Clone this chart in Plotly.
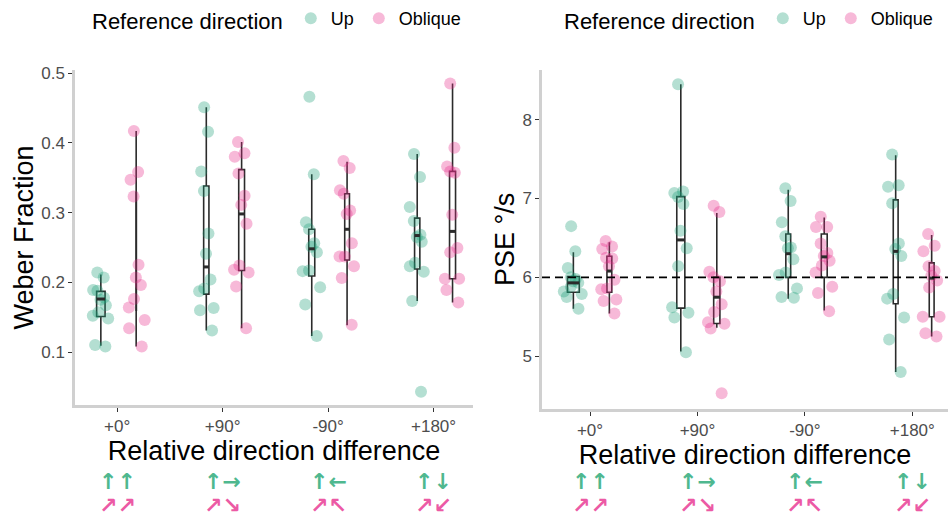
import plotly.graph_objects as go

# ---------------- data ----------------
categories = ["+0°", "+90°", "-90°", "+180°"]
series_names = ["Up", "Oblique"]
arrows_up = ["↑↑", "↑→", "↑←", "↑↓"]
arrows_obl = ["↗↗", "↗↘", "↗↖", "↗↙"]

weber_up = [
    [0.214, 0.207, 0.189, 0.188, 0.178, 0.175, 0.167, 0.157, 0.152, 0.148, 0.110, 0.108],
    [0.451, 0.416, 0.359, 0.331, 0.270, 0.241, 0.204, 0.191, 0.187, 0.163, 0.160, 0.131],
    [0.466, 0.355, 0.286, 0.276, 0.256, 0.251, 0.243, 0.217, 0.216, 0.193, 0.168, 0.123],
    [0.384, 0.351, 0.308, 0.288, 0.268, 0.265, 0.258, 0.228, 0.223, 0.215, 0.173, 0.043],
]
weber_obl = [
    [0.417, 0.358, 0.347, 0.323, 0.225, 0.207, 0.196, 0.176, 0.164, 0.146, 0.134, 0.108],
    [0.401, 0.385, 0.380, 0.356, 0.324, 0.311, 0.284, 0.224, 0.218, 0.214, 0.194, 0.134],
    [0.374, 0.364, 0.332, 0.327, 0.303, 0.298, 0.256, 0.237, 0.237, 0.223, 0.206, 0.139],
    [0.485, 0.393, 0.366, 0.359, 0.357, 0.297, 0.249, 0.243, 0.205, 0.205, 0.189, 0.171],
]
# box statistics
weber_up_q1 = [0.151, 0.183, 0.209, 0.219]
weber_up_med = [0.176, 0.222, 0.248, 0.267]
weber_up_q3 = [0.187, 0.338, 0.276, 0.292]
weber_up_lo = [0.109, 0.131, 0.123, 0.173]
weber_up_hi = [0.211, 0.451, 0.355, 0.384]
weber_obl_q1 = [0.160, 0.217, 0.232, 0.205]
weber_obl_med = [0.201, 0.298, 0.276, 0.273]
weber_obl_q3 = [0.329, 0.3615, 0.327, 0.359]
weber_obl_lo = [0.108, 0.134, 0.1385, 0.171]
weber_obl_hi = [0.417, 0.401, 0.373, 0.485]

pse_up = [
    [6.65, 6.33, 6.12, 6.00, 5.98, 5.95, 5.93, 5.88, 5.82, 5.79, 5.75, 5.60],
    [8.45, 7.09, 7.07, 7.02, 6.93, 6.59, 6.37, 6.14, 5.62, 5.55, 5.49, 5.05],
    [7.13, 6.97, 6.70, 6.52, 6.38, 6.37, 6.23, 6.06, 6.03, 5.86, 5.75, 5.74],
    [7.56, 7.17, 7.15, 6.94, 6.43, 6.36, 6.27, 5.79, 5.73, 5.49, 5.21, 4.80],
]
pse_obl = [
    [6.46, 6.39, 6.36, 6.25, 6.24, 6.14, 5.97, 5.86, 5.85, 5.72, 5.70, 5.54],
    [6.91, 6.83, 6.07, 6.00, 5.95, 5.82, 5.66, 5.56, 5.43, 5.41, 5.35, 4.53],
    [6.77, 6.64, 6.64, 6.43, 6.31, 6.27, 6.21, 6.15, 6.06, 5.88, 5.80, 5.57],
    [6.55, 6.40, 6.33, 6.14, 6.08, 6.02, 5.96, 5.87, 5.50, 5.50, 5.29, 5.25],
]
pse_up_q1 = [5.81, 5.61, 6.00, 5.665]
pse_up_med = [5.93, 6.475, 6.30, 6.33]
pse_up_q3 = [6.01, 7.024, 6.55, 6.983]
pse_up_lo = [5.60, 5.06, 5.73, 4.80]
pse_up_hi = [6.32, 8.45, 7.11, 7.55]
pse_obl_q1 = [5.81, 5.415, 6.00, 5.50]
pse_obl_med = [6.08, 5.748, 6.26, 5.99]
pse_obl_q3 = [6.267, 6.00, 6.55, 6.184]
pse_obl_lo = [5.54, 5.36, 5.58, 5.25]
pse_obl_hi = [6.445, 6.816, 6.758, 6.537]
pse_reference = 6

# ---------------- styling ----------------
GREEN = "#1b9e77"
PINK = "#e7298a"
ARROW_GREEN = "#4fb88f"
ARROW_PINK = "#ec5aa5"
FONT = "Liberation Sans, Arial, sans-serif"
W, H = 948, 520
OFFSETS = {"Up": -0.155, "Oblique": 0.18}
BOX_WIDTHS = {
    ("x", "Up"): [0.08, 0.05, 0.057, 0.05],
    ("x", "Oblique"): [0.004, 0.055, 0.045, 0.057],
    ("x2", "Up"): [0.11, 0.075, 0.045, 0.045],
    ("x2", "Oblique"): [0.045, 0.058, 0.055, 0.045],
}

fig = go.Figure()

panels = [
    dict(xa="x", ya="y", legend="legend",
         series={"Up": (weber_up, weber_up_q1, weber_up_med, weber_up_q3, weber_up_lo, weber_up_hi),
                 "Oblique": (weber_obl, weber_obl_q1, weber_obl_med, weber_obl_q3, weber_obl_lo, weber_obl_hi)}),
    dict(xa="x2", ya="y2", legend="legend2",
         series={"Up": (pse_up, pse_up_q1, pse_up_med, pse_up_q3, pse_up_lo, pse_up_hi),
                 "Oblique": (pse_obl, pse_obl_q1, pse_obl_med, pse_obl_q3, pse_obl_lo, pse_obl_hi)}),
]
colors = {"Up": GREEN, "Oblique": PINK}

for p in panels:
    # boxes first
    for name, (pts, q1, med, q3, lo, hi) in p["series"].items():
        for i in range(len(categories)):
            pos = i + 1 + OFFSETS[name]
            w = BOX_WIDTHS[(p["xa"], name)][i]
            fig.add_trace(go.Box(
                x=[pos], q1=[q1[i]], median=[med[i]], q3=[q3[i]],
                lowerfence=[lo[i]], upperfence=[hi[i]], width=w,
                fillcolor="white", line=dict(color="#2b2b2b", width=1.6),
                whiskerwidth=0, boxpoints=False, showlegend=False,
                xaxis=p["xa"], yaxis=p["ya"], hoverinfo="skip"))
            if w > 0.01:
                # thicker median bar (ggplot style)
                fig.add_trace(go.Scatter(
                    x=[pos - w / 2, pos + w / 2], y=[med[i], med[i]], mode="lines",
                    line=dict(color="#2b2b2b", width=3), showlegend=False,
                    hoverinfo="skip", xaxis=p["xa"], yaxis=p["ya"]))
    # jittered points on top
    for name, (pts, *_rest) in p["series"].items():
        for i, vals in enumerate(pts):
            pos = i + 1 + OFFSETS[name]
            fig.add_trace(go.Box(
                x=[pos] * len(vals), y=vals, width=0.21,
                boxpoints="all", jitter=1, pointpos=0,
                fillcolor="rgba(0,0,0,0)", line=dict(width=0, color="rgba(0,0,0,0)"),
                whiskerwidth=0,
                marker=dict(size=12, color=colors[name], opacity=0.33, line=dict(width=0)),
                showlegend=False, name=name, xaxis=p["xa"], yaxis=p["ya"]))
    # legend entries
    for name in series_names:
        fig.add_trace(go.Scatter(
            x=[None], y=[None], mode="markers", name=name,
            marker=dict(size=12, color=colors[name], opacity=0.33),
            legend=p["legend"], xaxis=p["xa"], yaxis=p["ya"]))

# dashed reference line
fig.add_shape(type="line", xref="x2 domain", x0=0, x1=1, yref="y2",
              y0=pse_reference, y1=pse_reference,
              line=dict(color="black", width=1.6, dash="8px,5px"))

# arrow glyph rows under each category
for xa in ["x", "x2"]:
    for i in range(len(categories)):
        fig.add_annotation(x=i + 1, xref=xa, y=1 - 496 / H, yref="paper",
                           text="<b>" + arrows_up[i] + "</b>", showarrow=False,
                           font=dict(family="DejaVu Sans", size=22, color=ARROW_GREEN))
        fig.add_annotation(x=i + 1, xref=xa, y=0, yref="paper", yanchor="bottom",
                           text="<b>" + arrows_obl[i] + "</b>", showarrow=False,
                           font=dict(family="DejaVu Sans", size=22, color=ARROW_PINK))

axis_common = dict(showline=True, linecolor="#d0d0d0", linewidth=2.5, showgrid=False,
                   zeroline=False, ticks="outside", ticklen=4, tickwidth=1.2,
                   tickcolor="#333333", tickfont=dict(size=17, color="#4d4d4d", family=FONT))

fig.update_layout(
    width=W, height=H, margin=dict(l=0, r=0, t=0, b=0),
    paper_bgcolor="white", plot_bgcolor="white",
    font=dict(family=FONT, color="black"),
    boxmode="overlay",
    xaxis=dict(domain=[75 / W, 473 / W], range=[0.6, 4.374], anchor="y",
               tickvals=[1, 2, 3, 4], ticktext=categories,
               title=dict(text="Relative direction difference", font=dict(size=27), standoff=2),
               **axis_common),
    yaxis=dict(domain=[1 - 403 / H, 1 - 62 / H], range=[0.024, 0.5045], anchor="x",
               tickvals=[0.1, 0.2, 0.3, 0.4, 0.5],
               title=dict(text="Weber Fraction", font=dict(size=27), standoff=0),
               **axis_common),
    xaxis2=dict(domain=[542 / W, 1.0], range=[0.553, 4.332], anchor="y2",
                tickvals=[1, 2, 3, 4], ticktext=categories,
                title=dict(text="Relative direction difference", font=dict(size=27), standoff=2),
                **axis_common),
    yaxis2=dict(domain=[1 - 407 / H, 1 - 62 / H], range=[4.33, 8.632], anchor="x2",
                tickvals=[5, 6, 7, 8],
                title=dict(text="PSE °/s", font=dict(size=27), standoff=0),
                **axis_common),
    legend=dict(orientation="h", x=90 / W, xanchor="left", y=1 + 9 / H, yanchor="top",
                title=dict(text="Reference direction", font=dict(size=22)),
                font=dict(size=18), bgcolor="rgba(0,0,0,0)", itemwidth=30),
    legend2=dict(orientation="h", x=562 / W, xanchor="left", y=1 + 9 / H, yanchor="top",
                 title=dict(text="Reference direction", font=dict(size=22)),
                 font=dict(size=18), bgcolor="rgba(0,0,0,0)", itemwidth=30),
)

fig.write_html("out.html", config={"displayModeBar": False},
               post_script="document.body.style.margin='0px';document.body.style.overflow='hidden';")
